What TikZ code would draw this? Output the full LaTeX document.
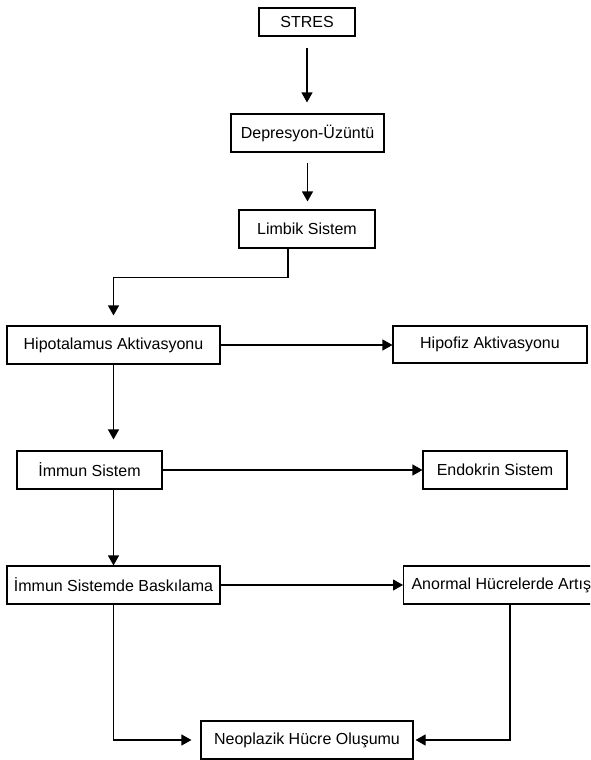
\documentclass[tikz,border=0pt]{standalone}
\usepackage{fontspec}
\setmainfont{Liberation Sans}
\usetikzlibrary{arrows.meta}

\tikzset{
  box/.style={draw, line width=1.1pt, rectangle, inner sep=0pt, align=center,
              font=\fontsize{16}{19}\selectfont},
  arr/.style={line width=1.1pt, -{Triangle[length=10pt,width=11pt]}},
  link/.style={line width=1.1pt}
}

\begin{document}
\begin{tikzpicture}[x=1pt, y=-1pt]
  \useasboundingbox (0,0) rectangle (590,760);
  \clip (0,0) rectangle (590,760);

  % boxes
  \node[box, minimum width=96pt,  minimum height=28pt] (stres) at (307,22)    {STRES};
  \node[box, minimum width=153pt, minimum height=38pt] (dep)   at (307.5,133) {Depresyon-Üzüntü};
  \node[box, minimum width=136pt, minimum height=38pt] (limb)  at (307,229)   {Limbik Sistem};
  \node[box, minimum width=213pt, minimum height=38pt] (hipo)  at (113.5,345) {Hipotalamus Aktivasyonu};
  \node[box, minimum width=194pt, minimum height=37pt] (hof)   at (490,344.5) {Hipofiz Aktivasyonu};
  \node[box, minimum width=145pt, minimum height=38pt] (imm)   at (89.5,470)  {İmmun Sistem};
  \node[box, minimum width=144pt, minimum height=38pt] (endo)  at (495,470)   {Endokrin Sistem};
  \node[box, minimum width=213pt, minimum height=38pt] (bask)  at (113.5,585) {İmmun Sistemde Baskılama};
  \node[box, inner xsep=8pt, minimum height=38pt, anchor=west] (anor) at (403,585) {Anormal Hücrelerde Artış};
  \node[box, minimum width=212pt, minimum height=38pt] (neo)   at (307,740)   {Neoplazik Hücre Oluşumu};

  % vertical chain at the top
  \draw[arr, shorten <=11pt, shorten >=11pt] (stres.south) -- (stres.south |- dep.north);
  \draw[arr, shorten <=10pt, shorten >=8pt]  (dep.south) -- (dep.south |- limb.north);
  \draw[arr, shorten >=10pt] ([xshift=-19pt]limb.south) -- ++(0,29) -| (hipo.north);

  % hypothalamus branch
  \draw[arr] (hipo.east) -- (hipo.east -| hof.west);
  \draw[arr, shorten >=11pt] (hipo.south) -- (hipo.south |- imm.north);

  % immune system branch
  \draw[arr] (imm.east) -- (imm.east -| endo.west);
  \draw[arr] (bask.north |- imm.south) -- (bask.north);

  % suppression branch
  \draw[arr] (bask.east) -- (bask.east -| anor.west);
  \draw[arr, shorten >=9pt] (bask.south) |- (neo.west);
  \draw[arr, shorten >=2pt] (510,604) coordinate (anorout) -- (anorout |- neo.east) -- (neo.east);
\end{tikzpicture}
\end{document}
